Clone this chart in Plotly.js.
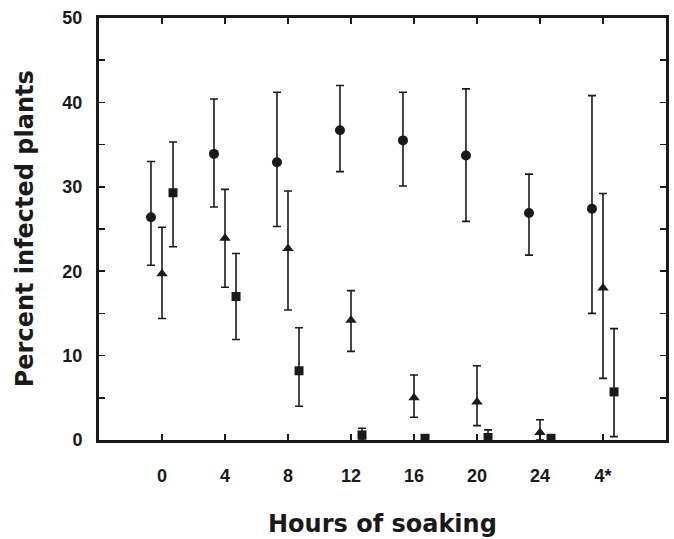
<!DOCTYPE html>
<html>
<head>
<meta charset="utf-8">
<script src="https://cdn.plot.ly/plotly-3.0.1.min.js"></script>
<style>
  html, body { margin: 0; padding: 0; background: #fff; }
  #chart { width: 674px; height: 539px; }
</style>
</head>
<body>
<div id="chart"></div>
<script>
// Categories (hours of soaking)
var categories = ['0', '4', '8', '12', '16', '20', '24', '4*'];

// Series 1: circles
var circleMean = [26.4, 33.9, 32.9, 36.7, 35.5, 33.7, 26.9, 27.4];
var circleHigh = [33.0, 40.4, 41.2, 42.0, 41.2, 41.6, 31.5, 40.8];
var circleLow  = [20.7, 27.6, 25.3, 31.8, 30.1, 25.9, 21.9, 15.0];

// Series 2: triangles
var triMean = [19.7, 23.9, 22.7, 14.2, 5.0, 4.5, 0.9, 18.0];
var triHigh = [25.2, 29.7, 29.5, 17.7, 7.7, 8.8, 2.4, 29.2];
var triLow  = [14.4, 18.1, 15.4, 10.5, 2.7, 1.7, 0.0, 7.3];

// Series 3: squares
var sqMean = [29.3, 17.0, 8.2, 0.6, 0.2, 0.3, 0.2, 5.7];
var sqHigh = [35.3, 22.1, 13.3, 1.4, 0.2, 1.2, 0.2, 13.2];
var sqLow  = [22.9, 11.9, 4.0, 0.0, 0.2, 0.0, 0.2, 0.4];

var ink = '#1a1a1a';

function makeTrace(name, mean, high, low, symbol, size) {
  return {
    type: 'scatter',
    mode: 'markers',
    name: name,
    x: categories,
    y: mean,
    offsetgroup: name,
    cliponaxis: false,
    marker: { symbol: symbol, size: size, color: ink },
    error_y: {
      type: 'data',
      symmetric: false,
      array: high.map(function (h, i) { return h - mean[i]; }),
      arrayminus: low.map(function (l, i) { return mean[i] - l; }),
      color: ink,
      thickness: 1.6,
      width: 4
    },
    showlegend: false
  };
}

var data = [
  makeTrace('circle', circleMean, circleHigh, circleLow, 'circle', 10),
  makeTrace('triangle', triMean, triHigh, triLow, 'triangle-up', 10),
  makeTrace('square', sqMean, sqHigh, sqLow, 'square', 9)
];

var tickFont = { family: 'Liberation Sans, Arial, sans-serif', size: 18, color: ink, weight: 'bold' };
var titleFont = { family: 'DejaVu Sans, sans-serif', size: 24, color: ink, weight: 'bold' };

var layout = {
  width: 674,
  height: 539,
  margin: { l: 99, r: 8, t: 18, b: 99 },
  paper_bgcolor: '#fff',
  plot_bgcolor: '#fff',
  scattermode: 'group',
  scattergap: 0.475,
  xaxis: {
    type: 'category',
    range: [-1, 8],
    showgrid: false,
    zeroline: false,
    showline: true,
    linecolor: ink,
    linewidth: 3,
    mirror: 'allticks',
    ticks: 'inside',
    ticklen: 6,
    tickwidth: 1.5,
    tickcolor: ink,
    tickfont: tickFont,
    ticklabelstandoff: 17
  },
  yaxis: {
    range: [0, 50],
    tickvals: [0, 10, 20, 30, 40, 50],
    showgrid: false,
    zeroline: false,
    showline: true,
    linecolor: ink,
    linewidth: 3,
    mirror: 'allticks',
    ticks: 'inside',
    ticklen: 6,
    tickwidth: 1.5,
    tickcolor: ink,
    tickfont: tickFont,
    ticklabelstandoff: 10,
    minor: { dtick: 5, tick0: 0, ticks: 'inside', ticklen: 6, tickwidth: 1.5, tickcolor: ink }
  },
  annotations: [
    {
      text: 'Hours of soaking',
      xref: 'paper', yref: 'paper',
      x: 0.5, y: -0.2, xanchor: 'center', yanchor: 'middle',
      showarrow: false,
      font: titleFont
    },
    {
      text: 'Percent infected plants',
      xref: 'paper', yref: 'paper',
      x: -0.13, y: 0.5, xanchor: 'center', yanchor: 'middle',
      textangle: -90,
      showarrow: false,
      font: titleFont
    }
  ]
};

Plotly.newPlot('chart', data, layout, { staticPlot: true, displayModeBar: false });
</script>
</body>
</html>
